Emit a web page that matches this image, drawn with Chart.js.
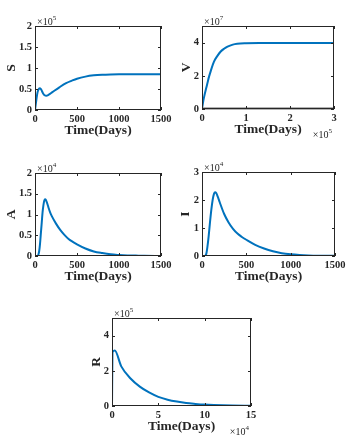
<!DOCTYPE html>
<html>
<head>
<meta charset="utf-8">
<script src="https://cdn.jsdelivr.net/npm/chart.js@4.4.1/dist/chart.umd.min.js"></script>
<style>
  body { margin: 0; background: #fff; }
  #fig { position: relative; width: 351px; height: 443px; overflow: hidden; }
  #fig canvas { position: absolute; }
</style>
</head>
<body>
<div id="fig">
  <canvas id="chartS"></canvas>
  <canvas id="chartV"></canvas>
  <canvas id="chartA"></canvas>
  <canvas id="chartI"></canvas>
  <canvas id="chartR"></canvas>
</div>
<script>
// S(t), values in x10^5
const sTime = [0, 10, 20, 30, 45, 60, 75, 95, 115, 135, 160, 210, 290, 370, 440, 500, 600, 700, 800, 900, 1000, 1200, 1500]
const sValues = [0, 0.15, 0.3, 0.42, 0.5, 0.52, 0.48, 0.4, 0.35, 0.34, 0.36, 0.43, 0.54, 0.64, 0.7, 0.745, 0.795, 0.825, 0.84, 0.847, 0.85, 0.852, 0.853]

// V(t), time in x10^5, values in x10^7
const vTime = [0, 0.03, 0.06, 0.09, 0.12, 0.16, 0.2, 0.27, 0.35, 0.42, 0.5, 0.58, 0.7, 0.8, 1.0, 1.3, 1.6, 2, 2.5, 3]
const vValues = [0, 0.5, 0.87, 1.2, 1.52, 1.95, 2.3, 2.84, 3.2, 3.45, 3.63, 3.76, 3.88, 3.93, 3.96, 3.97, 3.97, 3.97, 3.97, 3.97]

// A(t), values in x10^4
const aTime = [0, 30, 40, 50, 60, 70, 80, 90, 100, 110, 120, 130, 145, 160, 180, 200, 250, 300, 350, 400, 450, 500, 600, 700, 800, 900, 1000, 1100, 1200, 1300, 1500]
const aValues = [0, 0, 0.03, 0.12, 0.3, 0.55, 0.8, 1.05, 1.22, 1.33, 1.37, 1.35, 1.27, 1.17, 1.05, 0.96, 0.78, 0.63, 0.51, 0.41, 0.34, 0.28, 0.18, 0.11, 0.07, 0.04, 0.025, 0.015, 0.01, 0.005, 0.002]

// I(t), values in x10^4
const iTime = [0, 30, 40, 50, 60, 75, 90, 105, 120, 135, 148, 160, 180, 200, 250, 300, 350, 400, 450, 500, 600, 700, 800, 900, 1000, 1100, 1200, 1350, 1500]
const iValues = [0, 0, 0.02, 0.1, 0.3, 0.7, 1.2, 1.65, 2.0, 2.22, 2.28, 2.25, 2.1, 1.92, 1.5, 1.2, 0.97, 0.8, 0.68, 0.58, 0.4, 0.27, 0.17, 0.1, 0.06, 0.035, 0.02, 0.01, 0.005]

// R(t), time in x10^4, values in x10^5
const rTime = [0, 0.05, 0.3, 1, 2, 3, 4, 5, 6, 7, 8, 9, 10, 11, 12, 13, 15]
const rValues = [0, 3.05, 3.15, 2.25, 1.56, 1.1, 0.77, 0.52, 0.36, 0.25, 0.17, 0.12, 0.08, 0.055, 0.04, 0.03, 0.015]

// tick labels
const dayTicks = [0, 500, 1000, 1500]
const sYTicks = [0, 0.5, 1, 1.5, 2]
const vXTicks = [0, 1, 2, 3]
const vYTicks = [0, 2, 4]
const aYTicks = [0, 0.5, 1, 1.5, 2]
const iYTicks = [0, 1, 2, 3]
const rXTicks = [0, 5, 10, 15]
const rYTicks = [0, 2, 4]

const serif = '"Liberation Serif", "Times New Roman", serif'
const axisColor = '#262626'
const lineColor = '#0072BD'

function drawPow(ctx, exp, x, y, alignRight) {
    ctx.fillStyle = axisColor
    ctx.textBaseline = 'alphabetic'
    ctx.textAlign = 'left'
    ctx.font = '10px ' + serif
    const w1 = ctx.measureText('\u00d710').width
    ctx.font = '7px ' + serif
    const w2 = ctx.measureText(exp).width
    const sx = alignRight ? x - w1 - w2 : x
    ctx.font = '10px ' + serif
    ctx.fillText('\u00d710', sx, y)
    ctx.font = '7px ' + serif
    ctx.fillText(exp, sx + w1, y - 5)
}

const matlabBox = {
    id: 'matlabBox',
    afterDraw(chart, args, opts) {
        const ctx = chart.ctx
        const a = chart.chartArea
        const x = chart.scales.x
        const y = chart.scales.y
        ctx.save()
        if (opts.greyBottom) {
            ctx.strokeStyle = '#9a9a9a'
            ctx.lineWidth = 2.5
            ctx.beginPath()
            ctx.moveTo(a.left, a.bottom - 0.5)
            ctx.lineTo(a.right, a.bottom - 0.5)
            ctx.stroke()
        }
        ctx.strokeStyle = axisColor
        ctx.lineWidth = 1
        ctx.strokeRect(a.left + 0.5, a.top + 0.5, a.width - 1, a.height - 1)
        const len = 3
        ctx.beginPath()
        x.ticks.forEach(t => {
            const px = Math.round(x.getPixelForValue(t.value)) + 0.5
            ctx.moveTo(px, a.bottom); ctx.lineTo(px, a.bottom - len)
            ctx.moveTo(px, a.top); ctx.lineTo(px, a.top + len)
        })
        y.ticks.forEach(t => {
            const py = Math.round(y.getPixelForValue(t.value)) + 0.5
            ctx.moveTo(a.left, py); ctx.lineTo(a.left + len, py)
            ctx.moveTo(a.right, py); ctx.lineTo(a.right - len, py)
        })
        ctx.stroke()
        if (opts.yExp) drawPow(ctx, opts.yExp, a.left + 2, a.top - 1, false)
        if (opts.xExp) drawPow(ctx, opts.xExp, a.right - 2, a.bottom + 29, true)
        ctx.restore()
    }
}

const padL = 34, padT = 16, padR = 22, padB = 36

function makePanel(id, box, time, values, xTicks, yTicks, xMax, yMax, yLabel, yGap, yExp, xExp, greyBottom) {
    const canvas = document.getElementById(id)
    const w = box.right - box.left, h = box.bottom - box.top
    canvas.width = w + padL + padR
    canvas.height = h + padT + padB
    canvas.style.left = (box.left - padL) + 'px'
    canvas.style.top = (box.top - padT) + 'px'

    const tickFont = { family: serif, size: 10.5, weight: 'bold' }
    const titleFont = { family: serif, size: 13.5, weight: 'bold' }

    new Chart(canvas, {
        type: 'line',
        data: {
            datasets: [{
                data: time.map((t, i) => ({ x: t, y: values[i] })),
                borderColor: lineColor,
                borderWidth: 2,
                pointRadius: 0,
                cubicInterpolationMode: 'monotone',
                fill: false
            }]
        },
        options: {
            responsive: false,
            animation: false,
            devicePixelRatio: 1,
            layout: { padding: { left: 0, top: padT, right: padR, bottom: 0 } },
            plugins: {
                legend: { display: false },
                tooltip: { enabled: false },
                matlabBox: { yExp: yExp, xExp: xExp, greyBottom: greyBottom }
            },
            scales: {
                x: {
                    type: 'linear',
                    min: 0,
                    max: xMax,
                    grid: { display: false, drawTicks: false },
                    border: { display: false },
                    afterBuildTicks: s => { s.ticks = xTicks.map(v => ({ value: v })) },
                    afterFit: s => { s.height = padB },
                    ticks: { color: axisColor, font: tickFont, padding: 3, maxRotation: 0, autoSkip: false, callback: v => String(v) },
                    title: { display: true, text: 'Time(Days)', color: axisColor, font: titleFont, padding: { top: 0, bottom: padB - 20.5 - 8 } }
                },
                y: {
                    type: 'linear',
                    min: 0,
                    max: yMax,
                    grid: { display: false, drawTicks: false },
                    border: { display: false },
                    afterBuildTicks: s => { s.ticks = yTicks.map(v => ({ value: v })) },
                    afterFit: s => { s.width = padL },
                    ticks: { color: axisColor, font: tickFont, padding: 3, autoSkip: false, callback: v => String(v) },
                    title: { display: true, text: yLabel, color: axisColor, font: titleFont, padding: { top: padL - yGap - 8, bottom: 0 } }
                }
            }
        },
        plugins: [matlabBox]
    })
}

makePanel('chartS', { left: 35, top: 26, right: 161, bottom: 110 }, sTime, sValues, dayTicks, sYTicks, 1500, 2, 'S', 24, '5', null, false)
makePanel('chartV', { left: 202, top: 26, right: 334, bottom: 109 }, vTime, vValues, vXTicks, vYTicks, 3, 5, 'V', 16, '7', '5', true)
makePanel('chartA', { left: 35, top: 173, right: 161, bottom: 256 }, aTime, aValues, dayTicks, aYTicks, 1500, 2, 'A', 24, '4', null, false)
makePanel('chartI', { left: 202, top: 172, right: 335, bottom: 256 }, iTime, iValues, dayTicks, iYTicks, 1500, 3, 'I', 17, '4', null, false)
makePanel('chartR', { left: 112, top: 318, right: 251, bottom: 406 }, rTime, rValues, rXTicks, rYTicks, 15, 5, 'R', 16, '5', '4', false)
</script>
</body>
</html>
